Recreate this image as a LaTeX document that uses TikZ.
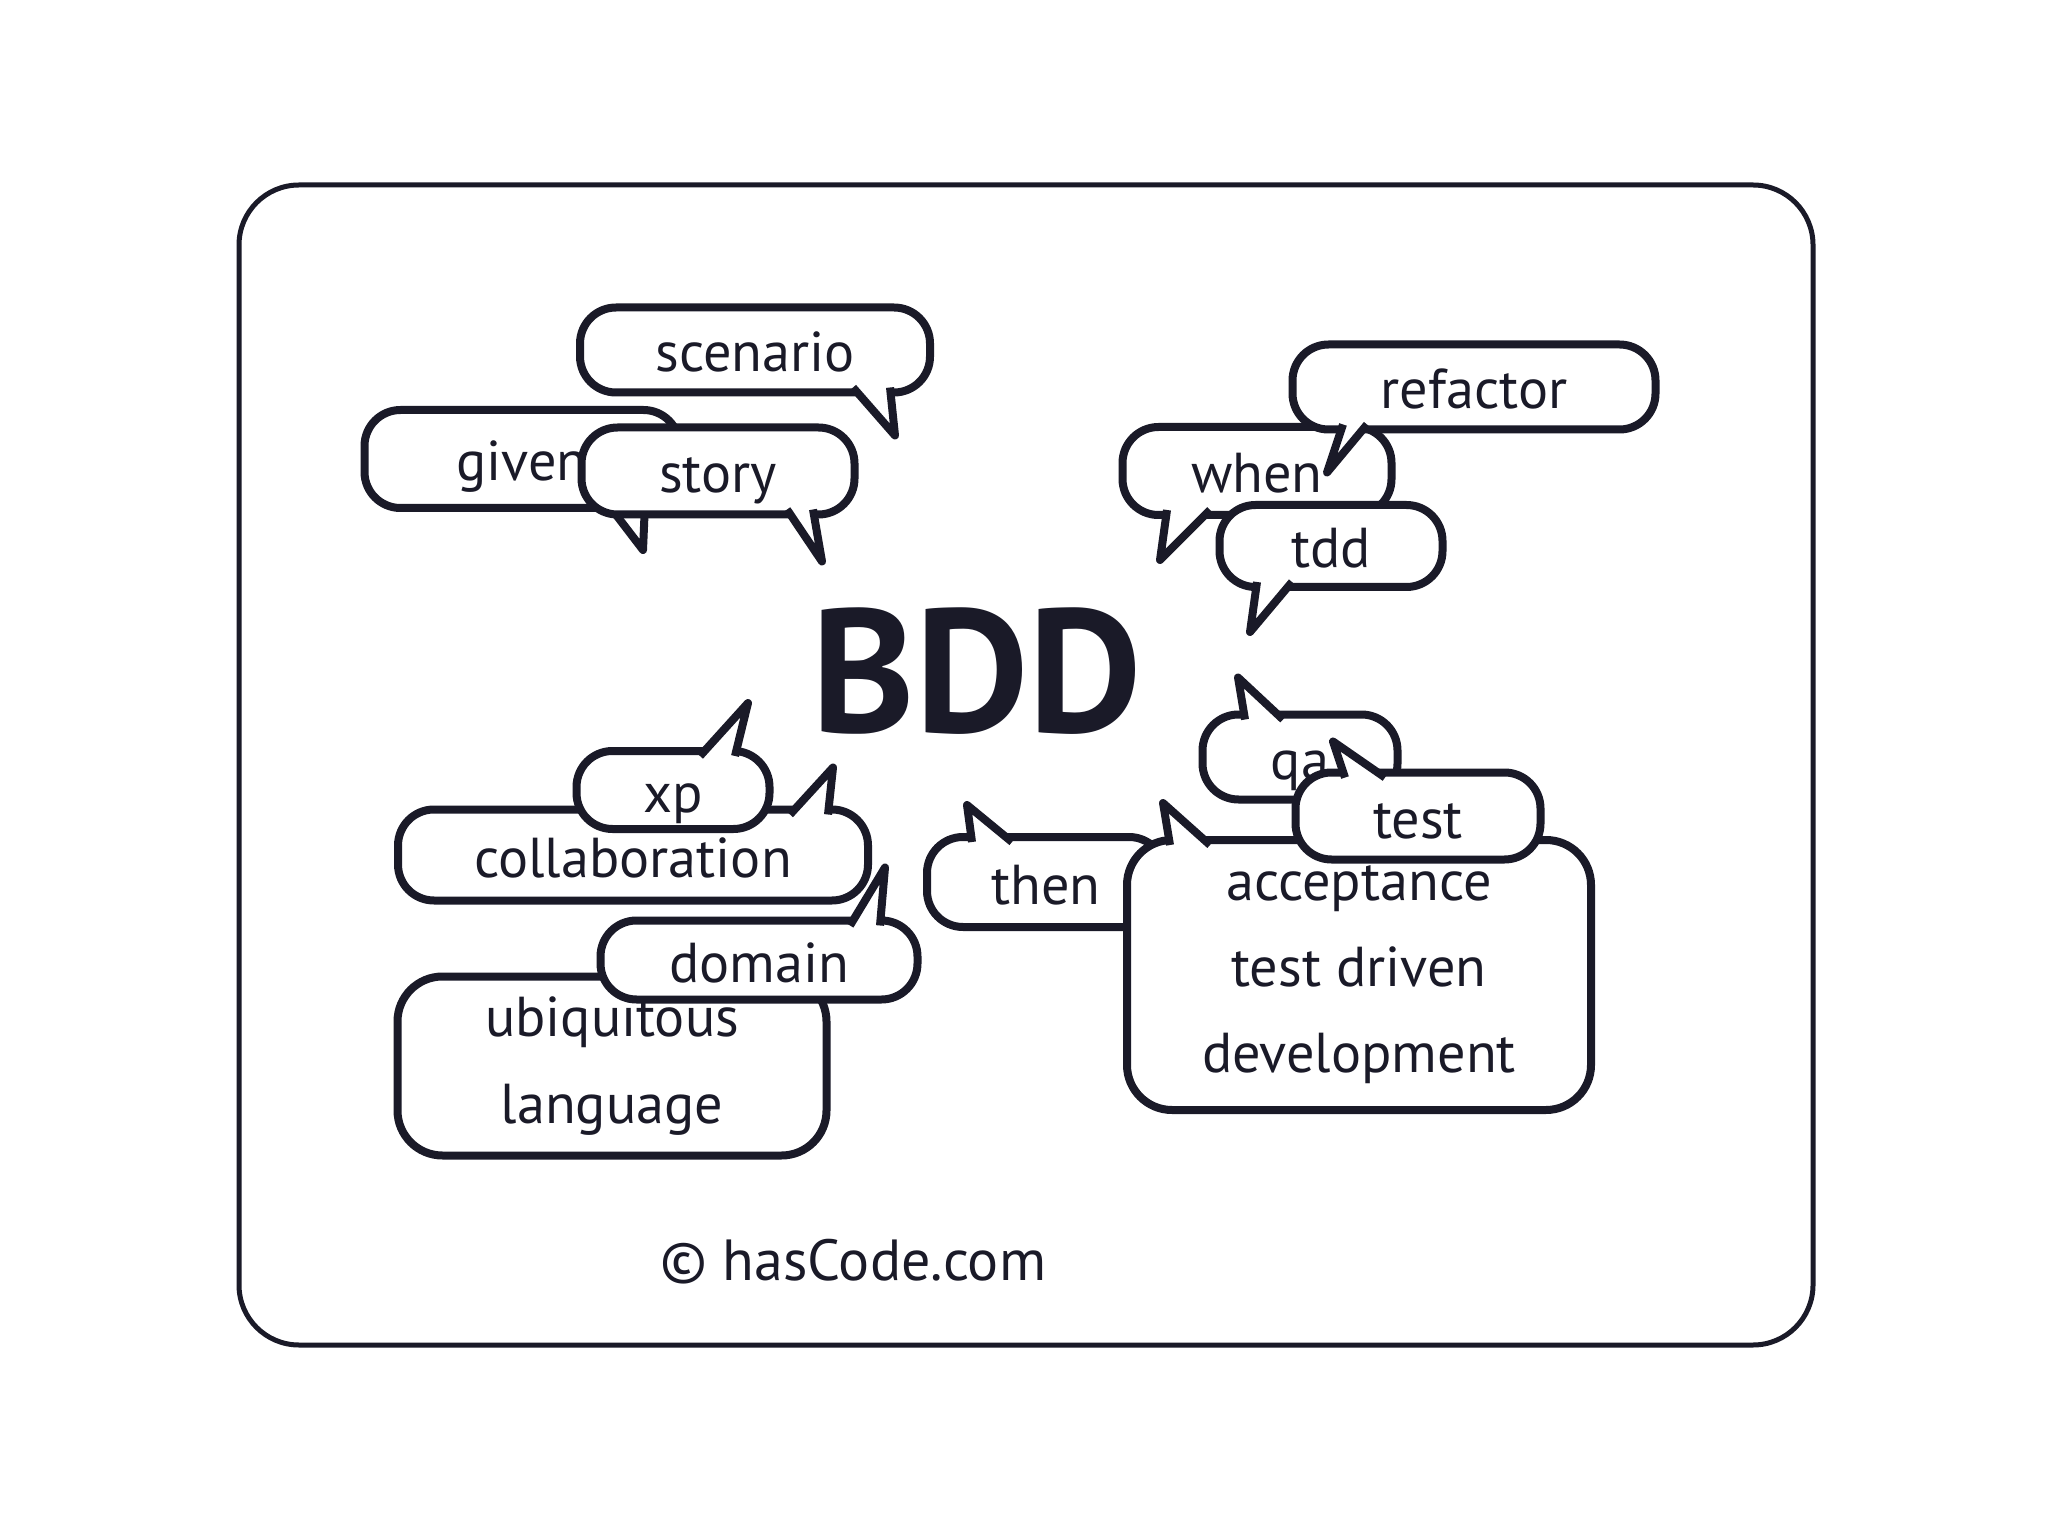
\documentclass[tikz,border=0pt]{standalone}
\usepackage{fontspec}
\setmainfont{PT Sans}
\newfontfamily\hand{PT Sans}
\usepackage{xcolor}
\usepackage{tikz}
\usetikzlibrary{calc}
\definecolor{ink}{RGB}{26,26,40}

\tikzstyle{bubble} = [rectangle, rounded corners=3.6mm, draw=ink, fill=white, line width=0.8mm, inner sep=0pt, outer sep=0pt, text=ink, font=\hand\fontsize{16}{24}\selectfont, text height=5mm, text depth=0.6mm]
\tikzstyle{box}    = [rectangle, rounded corners=4.5mm, draw=ink, fill=white, line width=0.8mm, inner sep=0pt, outer sep=0pt, text=ink, align=center, font=\hand\fontsize{16}{24.5}\selectfont]
\tikzstyle{tail}   = [draw=ink, fill=white, line width=0.8mm, line join=round]
\tikzstyle{card}   = [draw=ink, line width=0.5mm, rounded corners=6mm]

\begin{document}
\begin{tikzpicture}[x=0.1mm, y=-0.1mm]
\useasboundingbox[fill=white] (0,0) rectangle (2048,1535);
\draw[card] (239,185) rectangle (1813,1345);

% top left group
\node (scenario) [bubble, minimum width=35mm, minimum height=8.5mm] at (755,350) {scenario};
\filldraw[tail] ($(scenario.south)+(98,-5)$) -- ++(42,48) -- ++(-5,-48);
\node (given) [bubble, minimum width=31.5mm, minimum height=9.8mm] at (522,459) {given};
\filldraw[tail] ($(given.south)+(85,-5)$) -- ++(36,47) -- ++(2,-47);
\node (story) [bubble, minimum width=27.3mm, minimum height=8.7mm] at (718,471) {story};
\filldraw[tail] ($(story.south)+(69,-5)$) -- ++(35,52) -- ++(-9,-52);

% top right group
\node (when) [bubble, minimum width=26.9mm, minimum height=8.8mm] at (1257,471) {when};
\filldraw[tail] ($(when.south)+(-90,-5)$) -- ++(-7,50) -- ++(50,-50);
\node (refactor) [bubble, minimum width=36.3mm, minimum height=8.5mm] at (1474,387) {refactor};
\filldraw[tail] ($(refactor.south)+(-131,-5)$) -- ++(-16,48) -- ++(40,-48);
\node (tdd) [bubble, minimum width=22.3mm, minimum height=8.2mm] at (1331,546) {tdd};
\filldraw[tail] ($(tdd.south)+(-74,-5)$) -- ++(-7,50) -- ++(42,-50);

% centre
\node (bdd) [inner sep=0pt, text=ink, font=\hand\bfseries\fontsize{50}{50}\selectfont] at (977,671) {BDD};

% bottom right group
\node (then) [bubble, minimum width=23.8mm, minimum height=9mm] at (1046,882) {then};
\filldraw[tail] ($(then.north)+(-74,5)$) -- ++(-5,-37) -- ++(45,37);
\node (atdd) [box, minimum width=46.4mm, minimum height=27mm] at (1359,975) {acceptance\\test driven\\development};
\filldraw[tail] ($(atdd.north)+(-189,5)$) -- ++(-7,-42) -- ++(47,42);
\node (qa) [bubble, minimum width=19.5mm, minimum height=8.5mm] at (1300,757) {qa};
\filldraw[tail] ($(qa.north)+(-55,5)$) -- ++(-7,-42) -- ++(45,42);
\node (test) [bubble, minimum width=24.5mm, minimum height=8.7mm] at (1418,816) {test};
\filldraw[tail] ($(test.north)+(-73,5)$) -- ++(-12,-36) -- ++(52,36);

% bottom left group
\node (collab) [bubble, minimum width=47mm, minimum height=9.1mm] at (633,855) {collaboration};
\filldraw[tail] ($(collab.north)+(157,5)$) -- ++(43,-47) -- ++(-5,47);
\node (xp) [bubble, minimum width=19.3mm, minimum height=7.8mm] at (673,790) {xp};
\filldraw[tail] ($(xp.north)+(27,5)$) -- ++(48,-53) -- ++(-13,53);
\node (ubiq) [box, minimum width=42.9mm, minimum height=17.9mm] at (612,1066) {ubiquitous\\language};
\node (domain) [bubble, minimum width=31.7mm, minimum height=7.9mm] at (759,960) {domain};
\filldraw[tail] ($(domain.north)+(91,5)$) -- ++(35,-58) -- ++(-5,58);

\node (credit) [anchor=base west, inner sep=0pt, text=ink, font=\hand\fontsize{16.5}{20}\selectfont] at (660,1280) {© hasCode.com};
\end{tikzpicture}
\end{document}
